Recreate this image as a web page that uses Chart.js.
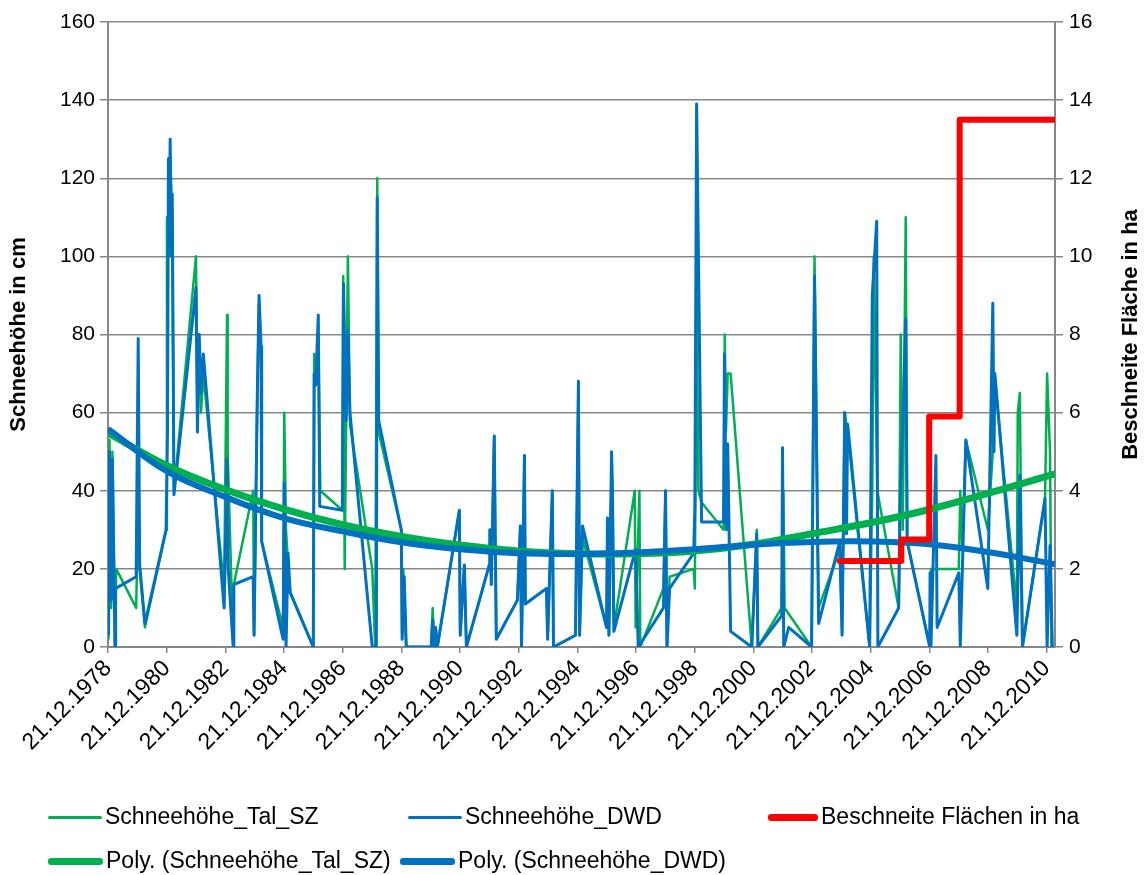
<!DOCTYPE html>
<html>
<head>
<meta charset="utf-8">
<script src="https://cdn.jsdelivr.net/npm/chart.js@4.4.1/dist/chart.umd.min.js"></script>
<style>
  body { margin: 0; background: #fff; }
  #wrap { position: relative; width: 1147px; height: 875px; }
  .lg { position: absolute; font: 23px "Liberation Sans", Arial, sans-serif; color: #000; white-space: nowrap; line-height: 26px; }
  .lg i { display: inline-block; vertical-align: middle; margin-right: 3px; border-radius: 3px; }
</style>
</head>
<body>
<div id="wrap">
  <canvas id="myChart" width="1147" height="875"></canvas>
  <div class="lg" style="left:48px;top:803px"><i style="width:54px;height:3px;background:#00B050"></i>Schneehöhe_Tal_SZ</div>
  <div class="lg" style="left:408px;top:803px"><i style="width:54px;height:3px;background:#0070C0"></i>Schneehöhe_DWD</div>
  <div class="lg" style="left:768px;top:803px"><i style="width:50px;height:7px;background:#FF0000"></i>Beschneite Flächen in ha</div>
  <div class="lg" style="left:48px;top:847px"><i style="width:55px;height:7px;background:#00B050"></i>Poly. (Schneehöhe_Tal_SZ)</div>
  <div class="lg" style="left:400px;top:847px"><i style="width:55px;height:7px;background:#0070C0"></i>Poly. (Schneehöhe_DWD)</div>
</div>
<script>
const ctx = document.getElementById("myChart").getContext("2d");

// x axis labels (one every two winters)
const tickLabels = [
  "21.12.1978", "21.12.1980", "21.12.1982", "21.12.1984", "21.12.1986",
  "21.12.1988", "21.12.1990", "21.12.1992", "21.12.1994", "21.12.1996",
  "21.12.1998", "21.12.2000", "21.12.2002", "21.12.2004", "21.12.2006",
  "21.12.2008", "21.12.2010",
];

// Schneehöhe Tal SZ (decimal year / cm)
const talYears = [
  1978.99, 1979.02, 1979.08, 1979.12, 1979.21, 1979.25, 1979.93,
  1980.00, 1980.05, 1980.23, 1980.95, 1980.98,
  1981.03, 1981.09, 1981.16, 1981.22, 1981.97,
  1982.02, 1982.08, 1982.14, 1982.22, 1982.93,
  1983.03, 1983.05, 1983.24, 1983.26, 1983.92, 1983.95,
  1984.06, 1984.12, 1984.19, 1984.21, 1984.94, 1984.98,
  1985.04, 1985.11, 1985.18, 1985.97,
  1986.00, 1986.05, 1986.14, 1986.21, 1986.96, 1986.99,
  1987.04, 1987.15, 1987.22, 1987.98,
  1988.08, 1988.15, 1988.20, 1988.97,
  1989.00, 1989.04, 1989.14, 1989.99,
  1990.04, 1990.10, 1990.14, 1990.20, 1990.95, 1990.98,
  1991.12, 1991.19, 1991.97, 1991.99,
  1992.04, 1992.14, 1992.21, 1992.93,
  1993.03, 1993.07, 1993.17, 1993.20, 1993.92, 1993.96,
  1994.12, 1994.16, 1994.91,
  1995.01, 1995.05, 1995.15, 1995.97,
  1996.00, 1996.05, 1996.14, 1996.17, 1996.22, 1996.93, 1996.96,
  1997.09, 1997.12, 1997.91, 1997.98,
  1998.03, 1998.12, 1998.94, 1998.98,
  1999.04, 1999.10, 1999.21, 1999.96,
  2000.00, 2000.04, 2000.10, 2000.20, 2000.92,
  2001.09, 2001.13, 2001.94,
  2002.00, 2002.04, 2002.96,
  2003.06, 2003.20, 2003.92,
  2004.00, 2004.09, 2004.19, 2004.94,
  2005.03, 2005.08, 2005.20, 2005.93,
  2006.00, 2006.07, 2006.17, 2006.22, 2006.99,
  2007.03, 2007.98,
  2008.03, 2008.10, 2008.22, 2008.97,
  2009.14, 2009.19, 2009.96, 2009.99,
  2010.06, 2010.15, 2010.92, 2010.99,
  2011.04, 2011.09, 2011.14,
];
const talDepth = [
  2, 53, 10, 50, 0, 20, 10,
  35, 20, 5, 30, 110,
  100, 125, 110, 40, 100,
  60, 75, 60, 70, 15,
  85, 50, 0, 16, 40, 3,
  64, 88, 75, 27, 5, 60,
  30, 21, 14, 0,
  75, 68, 80, 40, 35, 95,
  20, 100, 57, 20,
  0, 120, 55, 30,
  2, 20, 0, 0,
  10, 0, 5, 0, 35, 3,
  21, 0, 21, 30,
  16, 54, 2, 12,
  31, 0, 49, 11, 15, 2,
  40, 0, 3,
  68, 3, 28, 5,
  33, 3, 45, 40, 5, 40, 5,
  40, 0, 15, 40,
  0, 18, 20, 15,
  90, 40, 37, 30,
  80, 55, 70, 70, 0,
  30, 0, 10,
  40, 10, 0,
  100, 10, 25,
  5, 60, 55, 0,
  40, 100, 40, 10,
  80, 30, 110, 27, 0,
  20, 20,
  40, 25, 53, 30,
  50, 70, 10, 60,
  65, 0, 38, 70,
  60, 50, 0,
];

// Schneehöhe DWD (decimal year / cm)
const dwdYears = [
  1978.99, 1979.02, 1979.08, 1979.12, 1979.21, 1979.23, 1979.93,
  1980.00, 1980.05, 1980.23, 1980.95,
  1981.00, 1981.03, 1981.06, 1981.09, 1981.13, 1981.16, 1981.22, 1981.97,
  1982.02, 1982.08, 1982.14, 1982.22, 1982.93,
  1983.03, 1983.07, 1983.24, 1983.26, 1983.92, 1983.95,
  1984.06, 1984.12, 1984.19, 1984.21, 1984.94, 1984.98,
  1985.04, 1985.11, 1985.18, 1985.97,
  1986.00, 1986.05, 1986.14, 1986.19, 1986.96,
  1987.00, 1987.09, 1987.15, 1987.22, 1987.98,
  1988.12, 1988.15, 1988.20, 1988.97,
  1989.00, 1989.07, 1989.14, 1989.99,
  1990.04, 1990.10, 1990.14, 1990.20, 1990.95, 1990.98,
  1991.12, 1991.19, 1991.97, 1991.99,
  1992.04, 1992.14, 1992.21, 1992.93,
  1993.03, 1993.07, 1993.17, 1993.20, 1993.92, 1993.96,
  1994.12, 1994.16, 1994.91,
  1995.01, 1995.05, 1995.15, 1995.97,
  1996.00, 1996.05, 1996.14, 1996.17, 1996.22, 1996.96,
  1997.05, 1997.91, 1997.98,
  1998.03, 1998.12, 1998.94, 1998.98,
  1999.04, 1999.21, 1999.96, 1999.99,
  2000.05, 2000.10, 2000.20, 2000.92,
  2001.09, 2001.13, 2001.94, 2001.97,
  2002.01, 2002.18, 2002.96,
  2003.06, 2003.20, 2003.92,
  2004.00, 2004.09, 2004.15, 2004.19, 2004.94,
  2005.03, 2005.18, 2005.22, 2005.93, 2005.99,
  2006.10, 2006.17, 2006.22, 2006.99,
  2007.00, 2007.03, 2007.20, 2007.24, 2007.98,
  2008.03, 2008.22, 2008.97,
  2009.14, 2009.18, 2009.21, 2009.96,
  2010.06, 2010.15, 2010.92, 2010.99,
  2011.09, 2011.17,
];
const dwdDepth = [
  3, 50, 12, 48, 0, 15, 18,
  79, 21, 6, 30,
  56, 125, 110, 130, 100, 116, 39, 92,
  55, 80, 65, 75, 10,
  48, 20, 0, 16, 18, 3,
  64, 90, 77, 27, 2, 42,
  0, 24, 14, 0,
  70, 67, 85, 36, 35,
  93, 58, 81, 60, 0,
  0, 115, 58, 30,
  2, 18, 0, 0,
  7, 0, 5, 0, 35, 3,
  21, 0, 21, 30,
  16, 54, 2, 12,
  31, 0, 49, 11, 15, 2,
  40, 0, 3,
  68, 3, 31, 5,
  33, 3, 50, 41, 4, 25,
  0, 10, 40,
  0, 15, 24, 36,
  139, 32, 32, 75,
  30, 52, 4, 0,
  29, 0, 8, 51,
  0, 5, 0,
  95, 6, 27,
  3, 60, 29, 57, 0,
  90, 109, 0, 10, 40,
  65, 84, 27, 0,
  19, 0, 49, 5, 19,
  0, 53, 15,
  88, 50, 70, 3,
  44, 0, 38, 0,
  26, 0,
];

// Beschneite Flächen (ha), right axis
const areaYears = [2003.92, 2006.02, 2006.97, 2008.01, 2011.26];
const areaHa = [2.2, 2.75, 5.9, 13.5, 13.5];

// polynomial trend lines
const polyYears = [
  1978.97, 1980.97, 1982.97, 1984.97, 1986.97, 1988.97, 1990.97, 1992.97, 1994.97,
  1996.97, 1998.97, 2000.97, 2002.97, 2004.97, 2006.97, 2008.97, 2011.26,
];
const polyTal = [54.8, 46.5, 40.3, 35.3, 31.3, 28.3, 26.1, 24.6, 23.9, 23.9, 24.6, 26.3, 29.0, 31.8, 35.2, 39.3, 44.3];
const polyDwd = [55.8, 45.0, 38.4, 33.0, 29.6, 26.8, 25.0, 24.0, 23.8, 24.2, 25.0, 26.2, 26.9, 27.0, 26.3, 24.3, 21.2];

const y2Title = "Beschneite Fläche in ha";

const tickYears = tickLabels.map((l) => parseInt(l.slice(6), 10) + 355 / 365);
const zip = (xs, ys) => xs.map((x, i) => ({ x, y: ys[i] }));

const GREEN = "#00B050";
const BLUE = "#0070C0";
const RED = "#FF0000";
const GRID = "#878787";
const FONT = "'Liberation Sans', Arial, sans-serif";

// secondary axis title, rotated like the left one (bottom to top)
const rightTitle = {
  id: "rightTitle",
  afterDraw(chart) {
    const s = chart.scales.y2;
    const c = chart.ctx;
    c.save();
    c.translate(s.right - 16, (s.top + s.bottom) / 2);
    c.rotate(-Math.PI / 2);
    c.font = "bold 22px " + FONT;
    c.fillStyle = "#000";
    c.textAlign = "center";
    c.textBaseline = "middle";
    c.fillText(y2Title, 0, 0);
    c.restore();
  },
};

const data = {
  datasets: [
    {
      label: "Schneehöhe_Tal_SZ",
      data: zip(talYears, talDepth),
      borderColor: GREEN,
      borderWidth: 2.5,
      yAxisID: "y",
      order: 4,
    },
    {
      label: "Schneehöhe_DWD",
      data: zip(dwdYears, dwdDepth),
      borderColor: BLUE,
      borderWidth: 3,
      yAxisID: "y",
      order: 3,
    },
    {
      label: "Beschneite Flächen in ha",
      data: zip(areaYears, areaHa),
      borderColor: RED,
      borderWidth: 6,
      // horizontal first, then the jump
      stepped: "before",
      borderCapStyle: "round",
      borderJoinStyle: "round",
      yAxisID: "y2",
      order: 0,
    },
    {
      label: "Poly. (Schneehöhe_Tal_SZ)",
      data: zip(polyYears, polyTal),
      borderColor: GREEN,
      borderWidth: 7,
      tension: 0.4,
      yAxisID: "y",
      order: 2,
    },
    {
      label: "Poly. (Schneehöhe_DWD)",
      data: zip(polyYears, polyDwd),
      borderColor: BLUE,
      borderWidth: 6,
      tension: 0.4,
      yAxisID: "y",
      order: 1,
    },
  ],
};

const config = {
  type: "line",
  data: data,
  options: {
    responsive: false,
    animation: false,
    layout: { padding: { top: 22, left: 0, right: 0, bottom: 0 } },
    elements: { point: { radius: 0 }, line: { borderJoinStyle: "round" } },
    plugins: { legend: { display: false }, tooltip: { enabled: false } },
    scales: {
      x: {
        type: "linear",
        min: 1978.97,
        max: 2011.26,
        afterBuildTicks: (scale) => {
          scale.ticks = tickYears.map((v) => ({ value: v }));
        },
        afterFit: (scale) => {
          scale.height = 228;
        },
        ticks: {
          autoSkip: false,
          minRotation: 45,
          maxRotation: 45,
          padding: 2,
          color: "#000",
          font: { family: FONT, size: 23 },
          callback: (value, index) => tickLabels[index],
        },
        grid: { drawOnChartArea: false, drawTicks: true, tickLength: 6, color: GRID, lineWidth: 1.5 },
        border: { color: GRID, width: 2 },
      },
      y: {
        position: "left",
        min: 0,
        max: 160,
        afterFit: (scale) => {
          scale.width = 108;
        },
        ticks: {
          stepSize: 20,
          padding: 5,
          color: "#000",
          font: { family: FONT, size: 21 },
        },
        grid: { color: GRID, lineWidth: 1.5, tickLength: 8 },
        border: { color: GRID, width: 2 },
        title: {
          display: true,
          text: "Schneehöhe in cm",
          color: "#000",
          font: { family: FONT, size: 22, weight: "bold" },
          padding: { top: 6, bottom: 0 },
        },
      },
      y2: {
        position: "right",
        min: 0,
        max: 16,
        afterFit: (scale) => {
          scale.width = 92;
        },
        ticks: {
          stepSize: 2,
          padding: 6,
          color: "#000",
          font: { family: FONT, size: 21 },
        },
        grid: { drawOnChartArea: false, color: GRID, lineWidth: 1.5, tickLength: 8 },
        border: { color: GRID, width: 2 },
      },
    },
  },
  plugins: [rightTitle],
};

const myChart = new Chart(ctx, config);
</script>
</body>
</html>
